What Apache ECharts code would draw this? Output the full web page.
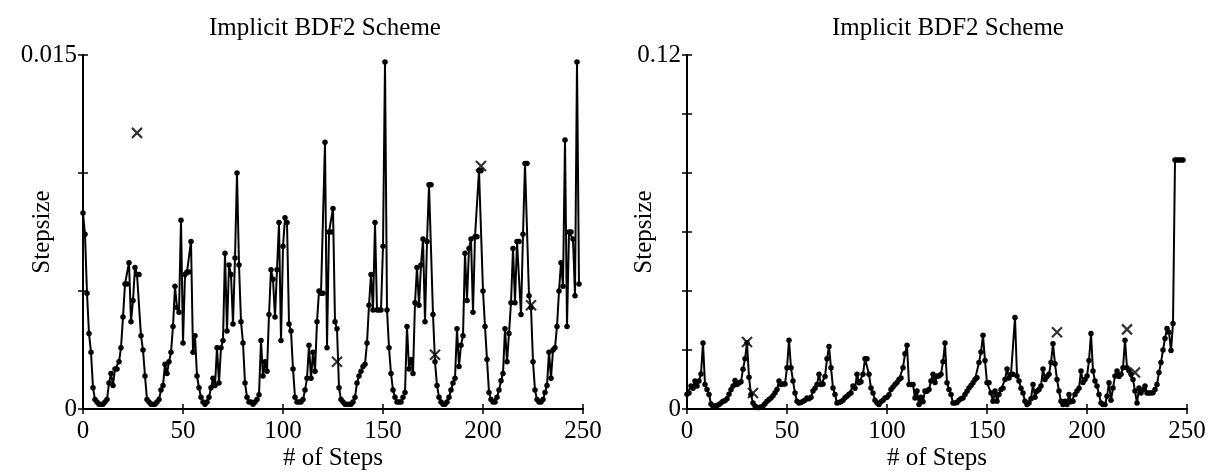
<!DOCTYPE html>
<html>
<head>
<meta charset="utf-8">
<script src="https://cdn.jsdelivr.net/npm/echarts@6/dist/echarts.min.js"></script>
<style>
html, body { margin: 0; background: #fff; }
#chart { width: 1226px; height: 474px; }
</style>
</head>
<body>
<div id="chart"></div>
<script>
// stepsize per step, left run
const leftSteps = [
  0.0083, 0.0074, 0.0049, 0.0032, 0.0024, 0.0009, 0.0004, 0.0003, 0.0002, 0.0002,
  0.0002, 0.0003, 0.0004, 0.0011, 0.0015, 0.0010, 0.0017, 0.0017, 0.0020, 0.0026,
  0.0039, 0.0053, 0.0053, 0.0062, 0.0037, 0.0046, 0.0060, 0.0057, 0.0057, 0.0031,
  0.0025, 0.0014, 0.0004, 0.0003, 0.0002, 0.0002, 0.0002, 0.0003, 0.0004, 0.0008,
  0.0010, 0.0019, 0.0015, 0.0020, 0.0024, 0.0035, 0.0052, 0.0043, 0.0041, 0.0080,
  0.0028, 0.0057, 0.0058, 0.0058, 0.0071, 0.0024, 0.0031, 0.0014, 0.0009, 0.0005,
  0.0003, 0.0002, 0.0003, 0.0005, 0.0009, 0.0013, 0.0010, 0.0026, 0.0011, 0.0026,
  0.0029, 0.0066, 0.0033, 0.0061, 0.0057, 0.0036, 0.0064, 0.0100, 0.0061, 0.0037,
  0.0028, 0.0011, 0.0005, 0.0003, 0.0003, 0.0002, 0.0003, 0.0004, 0.0006, 0.0029,
  0.0014, 0.0020, 0.0016, 0.0040, 0.0059, 0.0055, 0.0039, 0.0059, 0.0079, 0.0029,
  0.0069, 0.0081, 0.0079, 0.0036, 0.0033, 0.0017, 0.0005, 0.0003, 0.0003, 0.0003,
  0.0004, 0.0008, 0.0013, 0.0027, 0.0013, 0.0024, 0.0016, 0.0037, 0.0050, 0.0049,
  0.0049, 0.0113, 0.0026, 0.0075, 0.0075, 0.0085, 0.0037, 0.0034, 0.0009, 0.0004,
  0.0003, 0.0002, 0.0002, 0.0002, 0.0002, 0.0003, 0.0005, 0.0011, 0.0014, 0.0016,
  0.0018, 0.0019, 0.0028, 0.0044, 0.0057, 0.0042, 0.0079, 0.0042, 0.0042, 0.0042,
  0.0069, 0.0147, 0.0042, 0.0026, 0.0015, 0.0008, 0.0005, 0.0003, 0.0003, 0.0003,
  0.0005, 0.0007, 0.0035, 0.0017, 0.0021, 0.0015, 0.0045, 0.0060, 0.0044, 0.0061,
  0.0072, 0.0037, 0.0071, 0.0095, 0.0095, 0.0040, 0.0020, 0.0010, 0.0005, 0.0003,
  0.0002, 0.0002, 0.0003, 0.0005, 0.0008, 0.0011, 0.0013, 0.0034, 0.0018, 0.0027,
  0.0031, 0.0066, 0.0046, 0.0068, 0.0072, 0.0041, 0.0073, 0.0073, 0.0101, 0.0101,
  0.0050, 0.0035, 0.0021, 0.0007, 0.0004, 0.0003, 0.0003, 0.0005, 0.0008, 0.0012,
  0.0015, 0.0034, 0.0020, 0.0032, 0.0045, 0.0068, 0.0045, 0.0071, 0.0071, 0.0040,
  0.0074, 0.0104, 0.0104, 0.0048, 0.0043, 0.0020, 0.0008, 0.0004, 0.0003, 0.0003,
  0.0004, 0.0007, 0.0010, 0.0024, 0.0013, 0.0025, 0.0026, 0.0035, 0.0050, 0.0062,
  0.0052, 0.0114, 0.0035, 0.0075, 0.0075, 0.0072, 0.0048, 0.0147, 0.0053
];
// rejected steps (x marks), left run: [step, stepsize]
const leftRejected = [[27, 0.0117], [127, 0.0020], [176, 0.0023], [199, 0.0103], [224, 0.0044]];

// stepsize per step, right run
const rightSteps = [
  0.0050, 0.0054, 0.0078, 0.0070, 0.0095, 0.0078, 0.0095, 0.0119, 0.0224, 0.0083,
  0.0066, 0.0049, 0.0017, 0.0009, 0.0010, 0.0012, 0.0015, 0.0020, 0.0026, 0.0028,
  0.0035, 0.0050, 0.0065, 0.0078, 0.0097, 0.0083, 0.0088, 0.0092, 0.0135, 0.0170,
  0.0224, 0.0108, 0.0049, 0.0020, 0.0010, 0.0005, 0.0005, 0.0007, 0.0010, 0.0018,
  0.0026, 0.0032, 0.0037, 0.0045, 0.0055, 0.0066, 0.0095, 0.0083, 0.0085, 0.0085,
  0.0140, 0.0233, 0.0140, 0.0095, 0.0054, 0.0026, 0.0020, 0.0022, 0.0026, 0.0030,
  0.0037, 0.0035, 0.0040, 0.0061, 0.0070, 0.0083, 0.0118, 0.0083, 0.0085, 0.0110,
  0.0170, 0.0212, 0.0140, 0.0071, 0.0049, 0.0020, 0.0022, 0.0025, 0.0030, 0.0038,
  0.0043, 0.0050, 0.0054, 0.0078, 0.0070, 0.0118, 0.0089, 0.0092, 0.0118, 0.0170,
  0.0170, 0.0118, 0.0071, 0.0054, 0.0030, 0.0020, 0.0015, 0.0025, 0.0030, 0.0037,
  0.0040, 0.0048, 0.0066, 0.0075, 0.0083, 0.0090, 0.0100, 0.0105, 0.0140, 0.0187,
  0.0216, 0.0083, 0.0083, 0.0083, 0.0037, 0.0061, 0.0015, 0.0040, 0.0025, 0.0061,
  0.0060, 0.0066, 0.0095, 0.0118, 0.0090, 0.0112, 0.0112, 0.0118, 0.0160, 0.0224,
  0.0089, 0.0066, 0.0049, 0.0020, 0.0020, 0.0022, 0.0030, 0.0035, 0.0037, 0.0049,
  0.0060, 0.0071, 0.0080, 0.0089, 0.0100, 0.0106, 0.0158, 0.0193, 0.0250, 0.0164,
  0.0089, 0.0089, 0.0054, 0.0026, 0.0061, 0.0026, 0.0049, 0.0066, 0.0070, 0.0100,
  0.0136, 0.0105, 0.0118, 0.0118, 0.0310, 0.0112, 0.0095, 0.0070, 0.0054, 0.0026,
  0.0015, 0.0020, 0.0035, 0.0083, 0.0040, 0.0060, 0.0066, 0.0078, 0.0136, 0.0100,
  0.0110, 0.0118, 0.0158, 0.0221, 0.0153, 0.0100, 0.0061, 0.0026, 0.0015, 0.0026,
  0.0015, 0.0049, 0.0025, 0.0026, 0.0049, 0.0061, 0.0070, 0.0129, 0.0090, 0.0100,
  0.0112, 0.0164, 0.0256, 0.0129, 0.0095, 0.0078, 0.0049, 0.0020, 0.0015, 0.0015,
  0.0043, 0.0089, 0.0030, 0.0071, 0.0112, 0.0129, 0.0110, 0.0118, 0.0140, 0.0233,
  0.0140, 0.0130, 0.0118, 0.0100, 0.0061, 0.0020, 0.0071, 0.0054, 0.0065, 0.0078,
  0.0054, 0.0054, 0.0054, 0.0055, 0.0066, 0.0083, 0.0124, 0.0158, 0.0200, 0.0239,
  0.0273, 0.0260, 0.0198, 0.0290, 0.0844, 0.0844, 0.0844, 0.0844, 0.0844
];
const rightRejected = [[30, 0.0227], [33, 0.0054], [185, 0.0260], [220, 0.0270], [224, 0.0124]];

const xTicks = [0, 50, 100, 150, 200, 250];
const leftYTicks = [0, 0.015];
const rightYTicks = [0, 0.12];

const font = 'Liberation Serif';
const crossPath = 'path://M0,0L10,10M10,0L0,10';

function xAxes(grid) {
  const base = {
    type: 'value', gridIndex: grid,
    min: xTicks[0], max: xTicks[xTicks.length - 1], interval: 50,
    axisLine: { lineStyle: { color: '#000', width: 2 } },
    axisTick: { inside: true, length: 5, lineStyle: { color: '#000', width: 1.5 } },
    splitLine: { show: false }
  };
  return [
    Object.assign({}, base, {
      position: 'bottom',
      name: '# of Steps', nameLocation: 'middle', nameGap: 37, nameMoveOverlap: false,
      nameTextStyle: { fontFamily: font, fontSize: 25, color: '#000' },
      axisLabel: { fontFamily: font, fontSize: 25, color: '#000', margin: 10 }
    }),
    Object.assign({}, base, { position: 'top', axisLabel: { show: false } })
  ];
}

function yAxes(grid, ticks, step, gap) {
  const lo = ticks[0], hi = ticks[ticks.length - 1];
  const base = {
    type: 'value', gridIndex: grid, min: lo, max: hi, interval: step,
    axisLine: { show: true, lineStyle: { color: '#000', width: 2 } },
    axisTick: { show: true, inside: true, length: 5, lineStyle: { color: '#000', width: 1.5 } },
    splitLine: { show: false }
  };
  return [
    Object.assign({}, base, {
      position: 'left',
      name: 'Stepsize', nameLocation: 'middle', nameGap: gap, nameMoveOverlap: false,
      nameTextStyle: { fontFamily: font, fontSize: 25, color: '#000' },
      axisLabel: {
        fontFamily: font, fontSize: 25, color: '#000', margin: 6,
        formatter: v => (ticks.some(t => Math.abs(t - v) < 1e-9) ? String(v) : '')
      }
    }),
    Object.assign({}, base, { position: 'right', axisLabel: { show: false } })
  ];
}

function stepSeries(data, ax) {
  return {
    type: 'line', xAxisIndex: ax, yAxisIndex: ax,
    data: data.map((v, i) => [i, v]),
    symbol: 'circle', symbolSize: 5.5, showAllSymbol: true,
    lineStyle: { color: '#000', width: 2 },
    itemStyle: { color: '#000' },
    animation: false
  };
}

function rejectSeries(data, ax) {
  return {
    type: 'scatter', xAxisIndex: ax, yAxisIndex: ax,
    data: data,
    symbol: crossPath, symbolSize: 10,
    itemStyle: { color: 'none', borderColor: '#000', borderWidth: 2.2 },
    animation: false, z: 5
  };
}

const chart = echarts.init(document.getElementById('chart'));
chart.setOption({
  backgroundColor: '#fff',
  animation: false,
  title: [
    { text: 'Implicit BDF2 Scheme', left: 320, top: 11, textAlign: 'center',
      textStyle: { fontFamily: font, fontSize: 25, fontWeight: 'normal', color: '#000' } },
    { text: 'Implicit BDF2 Scheme', left: 943, top: 11, textAlign: 'center',
      textStyle: { fontFamily: font, fontSize: 25, fontWeight: 'normal', color: '#000' } }
  ],
  grid: [
    { left: 83, top: 55, width: 500, height: 354, outerBoundsMode: 'none' },
    { left: 687, top: 55, width: 500, height: 354, outerBoundsMode: 'none' }
  ],
  xAxis: xAxes(0).concat(xAxes(1)),
  yAxis: yAxes(0, leftYTicks, 0.005, 28).concat(yAxes(1, rightYTicks, 0.02, 30)),
  series: [
    stepSeries(leftSteps, 0),
    rejectSeries(leftRejected, 0),
    stepSeries(rightSteps, 2),
    rejectSeries(rightRejected, 2)
  ]
});
</script>
</body>
</html>
